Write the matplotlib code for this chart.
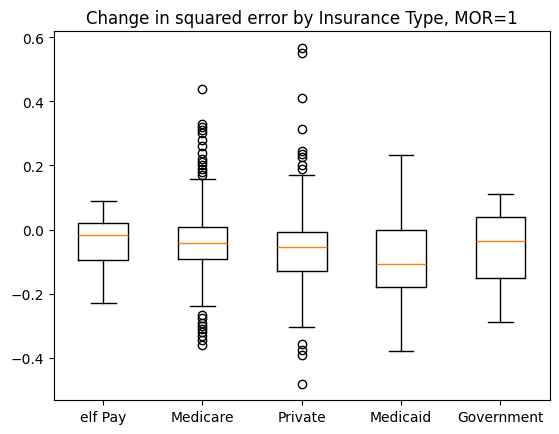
import matplotlib
matplotlib.use("Agg")
import matplotlib.pyplot as plt

labels = ["elf Pay", "Medicare", "Private", "Medicaid", "Government"]
medians = [-0.017, -0.043, -0.055, -0.108, -0.036]
q1 = [-0.096, -0.092, -0.13, -0.18, -0.15]
q3 = [0.02, 0.008, -0.008, 0.0, 0.04]
whislo = [-0.23, -0.237, -0.305, -0.377, -0.287]
whishi = [0.088, 0.158, 0.171, 0.234, 0.112]
fliers = [
    [],
    [0.437, 0.33, 0.32, 0.31, 0.30, 0.28, 0.26, 0.24, 0.22, 0.21, 0.20, 0.19, 0.18, 0.17,
     -0.265, -0.275, -0.29, -0.30, -0.31, -0.32, -0.33, -0.345, -0.36],
    [0.565, 0.55, 0.41, 0.315, 0.245, 0.235, 0.225, 0.20, 0.19,
     -0.355, -0.375, -0.39, -0.48],
    [],
    [],
]

stats = []
for i in range(len(labels)):
    stats.append(dict(med=medians[i], q1=q1[i], q3=q3[i], whislo=whislo[i],
                      whishi=whishi[i], fliers=fliers[i], label=labels[i]))

fig = plt.figure(figsize=(5.59, 4.35), dpi=100)
ax = fig.add_axes([53.5 / 559, 34 / 435, (550 - 53.5) / 559, (401 - 32) / 435])
ax.bxp(stats)
ax.set_ylim(-0.531, 0.619)
ax.set_title("Change in squared error by Insurance Type, MOR=1")
fig.savefig("out.png")
